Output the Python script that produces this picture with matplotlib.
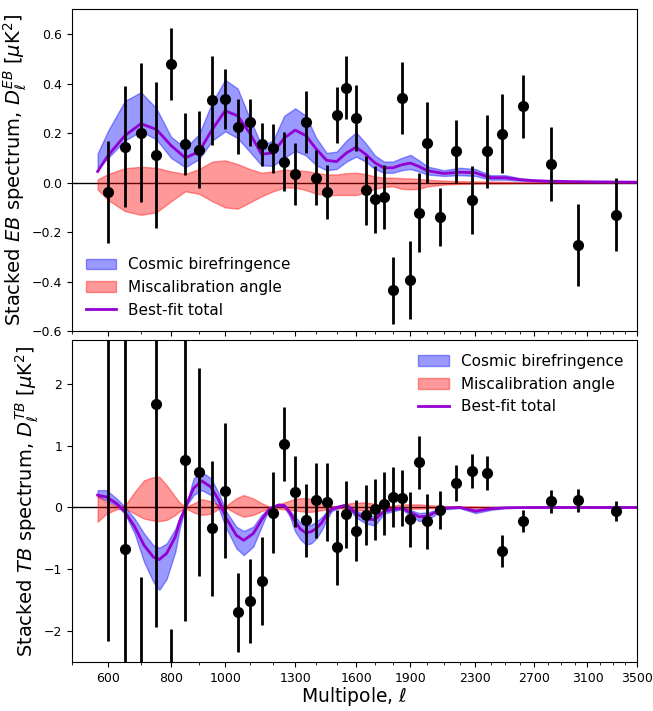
import matplotlib.pyplot as plt
import numpy as np
from matplotlib.ticker import FixedLocator

# binned data (stacked spectra)
ell = [600, 650, 700, 750, 800, 850, 900, 950, 1000, 1050, 1100, 1150, 1200,
       1250, 1300, 1350, 1400, 1450, 1500, 1550, 1600, 1650, 1700, 1750, 1800,
       1850, 1900, 1950, 2000, 2075, 2175, 2275, 2375, 2475, 2625, 2825, 3025,
       3325]

eb = [-0.038, 0.145, 0.201, 0.112, 0.478, 0.155, 0.133, 0.333, 0.337, 0.226,
      0.244, 0.155, 0.138, 0.085, 0.033, 0.246, 0.020, -0.038, 0.273, 0.384,
      0.261, -0.031, -0.068, -0.059, -0.435, 0.343, -0.393, -0.121, 0.162,
      -0.138, 0.126, -0.071, 0.127, 0.197, 0.308, 0.076, -0.252, -0.130]
eb_err = [0.205, 0.245, 0.28, 0.295, 0.145, 0.125, 0.155, 0.18, 0.12, 0.112,
          0.095, 0.087, 0.10, 0.118, 0.125, 0.125, 0.11, 0.108, 0.113, 0.127,
          0.135, 0.14, 0.136, 0.13, 0.136, 0.146, 0.156, 0.16, 0.163, 0.116,
          0.126, 0.137, 0.147, 0.16, 0.127, 0.15, 0.167, 0.147]

tb = [3.0, -0.677, -3.9, 1.667, -4.2, 0.764, 0.576, -0.339, 0.269, -1.69,
      -1.505, -1.19, -0.085, 1.027, 0.258, -0.21, 0.113, 0.087, -0.645, -0.113,
      -0.376, -0.123, -0.032, 0.06, 0.167, 0.151, -0.193, 0.727, -0.225,
      -0.043, 0.398, 0.592, 0.555, -0.704, -0.22, 0.097, 0.113, -0.058]
tb_err = [5.15, 3.6, 2.77, 3.59, 2.23, 2.6, 1.68, 1.09, 1.09, 0.64, 0.68, 0.71,
          0.65, 0.6, 0.57, 0.586, 0.61, 0.625, 0.6, 0.54, 0.495, 0.49, 0.49,
          0.505, 0.49, 0.455, 0.44, 0.435, 0.44, 0.31, 0.29, 0.274, 0.28,
          0.264, 0.183, 0.19, 0.19, 0.155]

# EB model curves
ell_eb = [570, 600, 650, 700, 750, 800, 850, 900, 950, 1000, 1050, 1100, 1150,
          1200, 1250, 1300, 1350, 1400, 1450, 1500, 1550, 1600, 1650, 1700,
          1750, 1800, 1850, 1900, 1950, 2000, 2100, 2200, 2300, 2400, 2500,
          2600, 2700, 2800, 3000, 3200, 3500]

eb_cb_hi = [0.118, 0.21, 0.33, 0.365, 0.30, 0.185, 0.14, 0.195, 0.325, 0.415,
            0.38, 0.26, 0.15, 0.17, 0.27, 0.30, 0.27, 0.18, 0.12, 0.125, 0.17,
            0.203, 0.16, 0.11, 0.085, 0.085, 0.10, 0.112, 0.09, 0.065, 0.05,
            0.06, 0.055, 0.03, 0.03, 0.018, 0.012, 0.008, 0.005, 0.004, 0.003]
eb_cb_lo = [0.06, 0.10, 0.17, 0.207, 0.175, 0.10, 0.062, 0.095, 0.17, 0.207,
            0.18, 0.125, 0.07, 0.068, 0.10, 0.128, 0.11, 0.07, 0.05, 0.055,
            0.085, 0.105, 0.085, 0.055, 0.04, 0.04, 0.05, 0.055, 0.045, 0.033,
            0.027, 0.03, 0.027, 0.012, 0.012, 0.008, 0.005, 0.003, 0.002,
            0.001, 0.001]
eb_mis_hi = [0.013, 0.035, 0.058, 0.064, 0.06, 0.045, 0.035, 0.055, 0.085,
             0.09, 0.075, 0.055, 0.04, 0.045, 0.052, 0.05, 0.047, 0.04, 0.033,
             0.033, 0.038, 0.04, 0.035, 0.025, 0.02, 0.02, 0.018, 0.017, 0.015,
             0.012, 0.008, 0.006, 0.005, 0.004, 0.003, 0.002, 0.002, 0.001,
             0.001, 0.001, 0.0005]
eb_mis_lo = [-0.028, -0.07, -0.115, -0.13, -0.12, -0.075, -0.035, -0.045,
             -0.075, -0.10, -0.105, -0.08, -0.055, -0.035, -0.02, -0.02, -0.03,
             -0.045, -0.05, -0.05, -0.05, -0.05, -0.04, -0.025, -0.017, -0.015,
             -0.025, -0.027, -0.025, -0.015, -0.008, -0.005, -0.004, -0.003,
             -0.003, -0.002, -0.002, -0.001, -0.001, -0.001, -0.0005]
eb_tot = [0.045, 0.11, 0.19, 0.238, 0.215, 0.15, 0.10, 0.125, 0.215, 0.29,
          0.27, 0.20, 0.115, 0.12, 0.18, 0.212, 0.19, 0.135, 0.09, 0.085, 0.12,
          0.143, 0.115, 0.08, 0.06, 0.06, 0.072, 0.079, 0.065, 0.048, 0.037,
          0.042, 0.04, 0.02, 0.02, 0.012, 0.008, 0.006, 0.004, 0.003, 0.002]

# TB model curves
ell_tb = [570, 595, 625, 650, 680, 710, 740, 760, 785, 815, 830, 850, 880, 910,
          945, 975, 1005, 1045, 1075, 1115, 1150, 1185, 1225, 1250, 1275, 1300,
          1325, 1350, 1375, 1400, 1425, 1450, 1475, 1500, 1550, 1600, 1650,
          1700, 1750, 1800, 1850, 1900, 1950, 2000, 2100, 2200, 2300, 2400,
          2500, 2600, 2700, 3000, 3500]

tb_cb_hi = [0.28, 0.28, 0.145, 0.01, -0.18, -0.42, -0.61, -0.65, -0.58, -0.34,
            -0.15, 0.0, 0.47, 0.575, 0.47, 0.23, -0.07, -0.31, -0.38, -0.31,
            -0.12, 0.0, 0.06, 0.05, -0.05, -0.15, -0.25, -0.30, -0.28, -0.23,
            -0.16, -0.07, 0.0, 0.02, 0.06, -0.05, -0.12, -0.14, -0.03, 0.0,
            0.01, -0.04, -0.09, -0.08, 0.0, 0.01, -0.03, -0.01, 0.0, 0.0, 0.0,
            0.0, 0.0]
tb_cb_lo = [0.17, 0.12, 0.03, -0.10, -0.42, -0.88, -1.20, -1.33, -1.15, -0.71,
            -0.34, 0.0, 0.20, 0.28, 0.20, -0.02, -0.34, -0.66, -0.77, -0.63,
            -0.31, 0.0, 0.02, 0.01, -0.14, -0.39, -0.52, -0.60, -0.58, -0.50,
            -0.37, -0.20, -0.06, -0.02, 0.02, -0.16, -0.26, -0.29, -0.10,
            -0.06, -0.03, -0.13, -0.22, -0.20, -0.03, -0.01, -0.09, -0.04,
            -0.01, -0.005, 0.0, 0.0, 0.0]
tb_mis_hi = [0.20, 0.09, 0.02, 0.03, 0.25, 0.44, 0.49, 0.495, 0.36, 0.17, 0.08,
             0.01, 0.065, 0.135, 0.10, 0.04, 0.03, 0.15, 0.20, 0.145, 0.07,
             0.01, 0.05, 0.08, 0.11, 0.14, 0.15, 0.15, 0.14, 0.12, 0.09, 0.06,
             0.03, 0.01, 0.06, 0.08, 0.08, 0.06, 0.02, 0.03, 0.05, 0.05, 0.05,
             0.04, 0.02, 0.02, 0.015, 0.01, 0.005, 0.004, 0.003, 0.001, 0.0]
tb_mis_lo = [-0.23, -0.10, -0.03, -0.01, -0.10, -0.18, -0.21, -0.22, -0.20,
             -0.12, -0.06, -0.01, -0.08, -0.12, -0.10, -0.02, -0.005, -0.10,
             -0.15, -0.12, -0.06, -0.01, -0.02, -0.03, -0.04, -0.05, -0.06,
             -0.07, -0.07, -0.06, -0.045, -0.03, -0.02, -0.01, -0.02, -0.04,
             -0.05, -0.04, -0.02, -0.01, -0.02, -0.02, -0.02, -0.01, -0.01,
             -0.005, -0.005, -0.003, -0.002, -0.001, -0.001, -0.001, 0.0]
tb_tot = [0.20, 0.17, 0.065, -0.07, -0.31, -0.61, -0.80, -0.84, -0.74, -0.47,
          -0.23, 0.0, 0.31, 0.43, 0.33, 0.12, -0.18, -0.45, -0.53, -0.42,
          -0.20, -0.02, 0.04, 0.03, -0.08, -0.23, -0.35, -0.41, -0.39, -0.34,
          -0.25, -0.12, -0.03, 0.0, 0.04, -0.10, -0.18, -0.20, -0.06, -0.03,
          -0.01, -0.08, -0.15, -0.14, -0.01, 0.0, -0.06, -0.02, -0.005,
          -0.002, 0.0, 0.0, 0.0]

xticks = [600, 800, 1000, 1300, 1600, 1900, 2300, 2700, 3100, 3500]


def fwd(x):
    return np.power(np.clip(x, 1e-9, None), 0.4)


def inv(x):
    return np.power(np.clip(x, 1e-9, None), 2.5)


fig, (ax1, ax2) = plt.subplots(2, 1, figsize=(6.53, 7.11), dpi=100)
fig.subplots_adjust(left=0.110, right=0.9755, top=0.987, bottom=0.0685,
                    hspace=0.028)

panels = [
    (ax1, eb, eb_err, ell_eb, eb_cb_lo, eb_cb_hi, eb_mis_lo, eb_mis_hi, eb_tot),
    (ax2, tb, tb_err, ell_tb, tb_cb_lo, tb_cb_hi, tb_mis_lo, tb_mis_hi, tb_tot),
]
for ax, d, e, lm, clo, chi, mlo, mhi, tot in panels:
    ax.set_xscale("function", functions=(fwd, inv))
    ax.axhline(0, color="k", lw=1, zorder=1)
    ax.fill_between(lm, clo, chi, color="b", alpha=0.4,
                    label="Cosmic birefringence", zorder=2)
    ax.fill_between(lm, mlo, mhi, color="r", alpha=0.4,
                    label="Miscalibration angle", zorder=2)
    ax.plot(lm, tot, color="darkviolet", lw=2, label="Best-fit total",
            zorder=3)
    ax.errorbar(ell, d, yerr=e, fmt="o", color="k", ms=7, elinewidth=2,
                capsize=0, zorder=4)
    ax.set_xlim(500, 3500)
    ax.xaxis.set_major_locator(FixedLocator(xticks))
    ax.xaxis.set_minor_locator(FixedLocator(np.arange(500, 3501, 100)))
    ax.tick_params(labelsize=9)

ax1.set_ylim(-0.6, 0.7)
ax1.set_yticks([-0.6, -0.4, -0.2, 0.0, 0.2, 0.4, 0.6])
ax1.set_xticklabels([])
ax1.set_ylabel(r"Stacked $EB$ spectrum, $D_\ell^{EB}$ [$\mu$K$^2$]",
               fontsize=14, labelpad=2)
ax1.legend(loc="lower left", frameon=False, fontsize=11,
           bbox_to_anchor=(0.0, 0.0))

ax2.set_ylim(-2.5, 2.7)
ax2.set_yticks([-2, -1, 0, 1, 2])
ax2.set_xticklabels([str(t) for t in xticks])
ax2.set_ylabel(r"Stacked $TB$ spectrum, $D_\ell^{TB}$ [$\mu$K$^2$]",
               fontsize=14, labelpad=2)
ax2.set_xlabel(r"Multipole, $\ell$", fontsize=13.5, labelpad=0)
ax2.legend(loc="upper right", frameon=False, fontsize=11)

plt.savefig("out.png", dpi=100)
